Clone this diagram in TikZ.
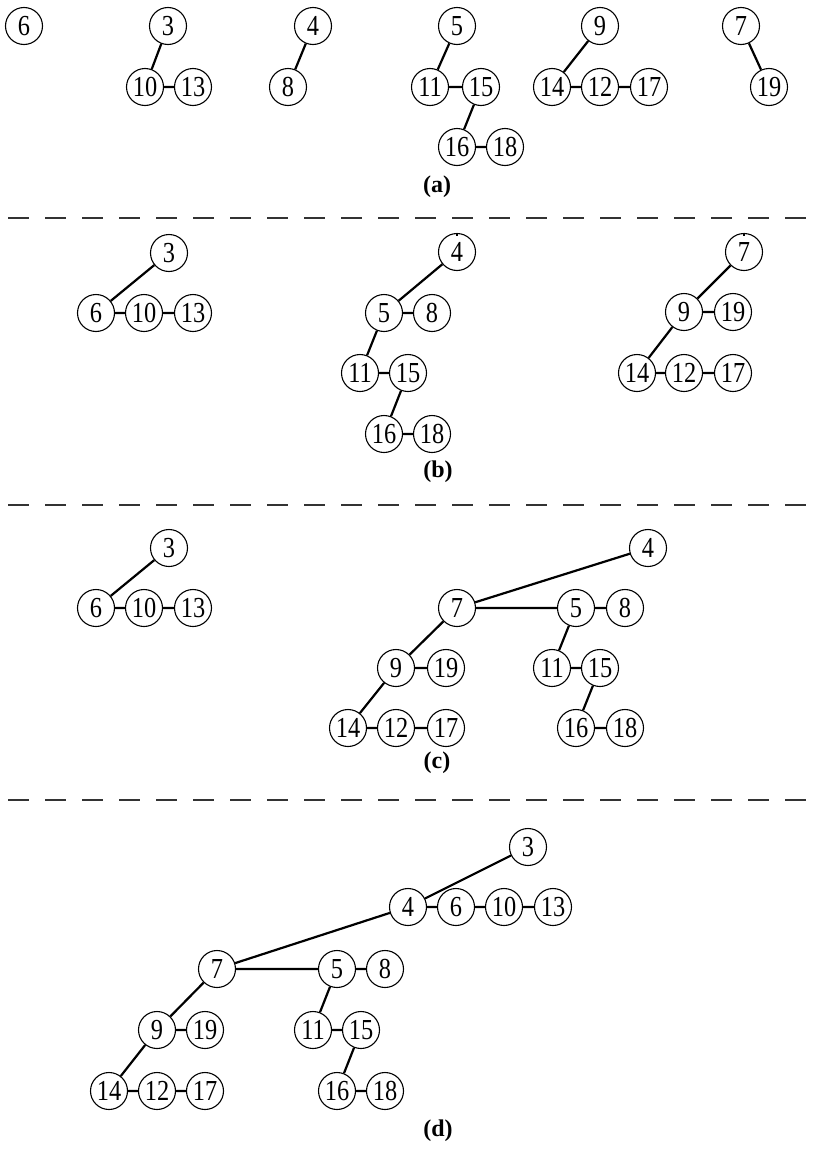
\documentclass[tikz,border=0pt]{standalone}
\usepackage{fontspec}
\setmainfont{Liberation Serif}
\newfontfamily\numfont[FakeStretch=0.84]{Liberation Serif}
\begin{document}
\begin{tikzpicture}[x=1pt,y=-1pt,
  hn/.style={circle,draw,line width=1.1pt,minimum size=37pt,inner sep=0pt,font=\numfont\fontsize{29}{29}\selectfont},
  ed/.style={line width=2.2pt},
  sep/.style={line width=1.2pt,draw=black!80,dash pattern=on 21pt off 16pt,dash phase=-8pt},
  lab/.style={font=\bfseries\fontsize{24}{24}\selectfont}]
\useasboundingbox (0,0) rectangle (820,1151);

% ---------- (a)
\node[hn] (a6) at (24,26) {6};
\node[hn] (a3) at (168,26) {3};
\node[hn] (a10) at (145,87) {10};
\node[hn] (a13) at (193,87) {13};
\node[hn] (a4) at (313,26) {4};
\node[hn] (a8) at (288,87) {8};
\node[hn] (a5) at (457,26) {5};
\node[hn] (a11) at (430,87) {11};
\node[hn] (a15) at (481,87) {15};
\node[hn] (a16) at (457,147) {16};
\node[hn] (a18) at (505,147) {18};
\node[hn] (a9) at (600,26) {9};
\node[hn] (a14) at (552,87) {14};
\node[hn] (a12) at (600,87) {12};
\node[hn] (a17) at (649,87) {17};
\node[hn] (a7) at (741,26) {7};
\node[hn] (a19) at (769,87) {19};
\draw[ed] (a3)--(a10) (a10)--(a13) (a4)--(a8) (a5)--(a11) (a11)--(a15) (a15)--(a16) (a16)--(a18)
  (a9)--(a14) (a14)--(a12) (a12)--(a17) (a7)--(a19);
\node[lab] (la) at (437,187) {(a)};

\coordinate (s1l) at (0,218); \coordinate (s1r) at (820,218);
\draw[sep] (s1l)--(s1r);

% ---------- (b)
\node[hn] (b3) at (169,253) {3};
\node[hn] (b6) at (96,313) {6};
\node[hn] (b10) at (144,313) {10};
\node[hn] (b13) at (193,313) {13};
\node[hn] (b4) at (457,252) {4};
\node[hn] (b5) at (384,313) {5};
\node[hn] (b8) at (432,313) {8};
\node[hn] (b11) at (360,373) {11};
\node[hn] (b15) at (408,373) {15};
\node[hn] (b16) at (384,434) {16};
\node[hn] (b18) at (432,434) {18};
\node[hn] (b7) at (744,252) {7};
\node[hn] (b9) at (684,312) {9};
\node[hn] (b19) at (733,312) {19};
\node[hn] (b14) at (637,373) {14};
\node[hn] (b12) at (684,373) {12};
\node[hn] (b17) at (733,373) {17};
\draw[ed] (b3)--(b6) (b6)--(b10) (b10)--(b13)
  (b4)--(b5) (b5)--(b8) (b5)--(b11) (b11)--(b15) (b15)--(b16) (b16)--(b18)
  (b7)--(b9) (b9)--(b19) (b9)--(b14) (b14)--(b12) (b12)--(b17);
\coordinate (b4t) at ([yshift=-3pt]b4.north);
\coordinate (b7t) at ([yshift=-3pt]b7.north);
\draw[line width=1.2pt] (b4.north)--(b4t) (b7.north)--(b7t);
\node[lab] (lb) at (438,472) {(b)};

\coordinate (s2l) at (0,505); \coordinate (s2r) at (820,505);
\draw[sep] (s2l)--(s2r);

% ---------- (c)
\node[hn] (c3) at (169,548) {3};
\node[hn] (c6) at (96,608) {6};
\node[hn] (c10) at (144,608) {10};
\node[hn] (c13) at (193,608) {13};
\node[hn] (c4) at (648,548) {4};
\node[hn] (c7) at (457,608) {7};
\node[hn] (c5) at (576,608) {5};
\node[hn] (c8) at (625,608) {8};
\node[hn] (c9) at (396,668) {9};
\node[hn] (c19) at (446,668) {19};
\node[hn] (c11) at (552,668) {11};
\node[hn] (c15) at (600,668) {15};
\node[hn] (c14) at (348,728) {14};
\node[hn] (c12) at (396,728) {12};
\node[hn] (c17) at (446,728) {17};
\node[hn] (c16) at (576,728) {16};
\node[hn] (c18) at (625,728) {18};
\draw[ed] (c3)--(c6) (c6)--(c10) (c10)--(c13)
  (c4)--(c7) (c7)--(c5) (c5)--(c8) (c7)--(c9) (c9)--(c19) (c9)--(c14) (c14)--(c12) (c12)--(c17)
  (c5)--(c11) (c11)--(c15) (c15)--(c16) (c16)--(c18);
\node[lab] (lc) at (437,763) {(c)};

\coordinate (s3l) at (0,800); \coordinate (s3r) at (820,800);
\draw[sep] (s3l)--(s3r);

% ---------- (d)
\node[hn] (d3) at (528,847) {3};
\node[hn] (d4) at (408,907) {4};
\node[hn] (d6) at (456,907) {6};
\node[hn] (d10) at (504,907) {10};
\node[hn] (d13) at (553,907) {13};
\node[hn] (d7) at (217,969) {7};
\node[hn] (d5) at (337,969) {5};
\node[hn] (d8) at (385,969) {8};
\node[hn] (d9) at (157,1030) {9};
\node[hn] (d19) at (205,1030) {19};
\node[hn] (d11) at (313,1030) {11};
\node[hn] (d15) at (361,1030) {15};
\node[hn] (d14) at (109,1091) {14};
\node[hn] (d12) at (157,1091) {12};
\node[hn] (d17) at (205,1091) {17};
\node[hn] (d16) at (337,1091) {16};
\node[hn] (d18) at (385,1091) {18};
\draw[ed] (d3)--(d4) (d4)--(d6) (d6)--(d10) (d10)--(d13)
  (d4)--(d7) (d7)--(d5) (d5)--(d8) (d7)--(d9) (d9)--(d19) (d9)--(d14) (d14)--(d12) (d12)--(d17)
  (d5)--(d11) (d11)--(d15) (d15)--(d16) (d16)--(d18);
\node[lab] (ld) at (438,1131) {(d)};
\end{tikzpicture}
\end{document}
